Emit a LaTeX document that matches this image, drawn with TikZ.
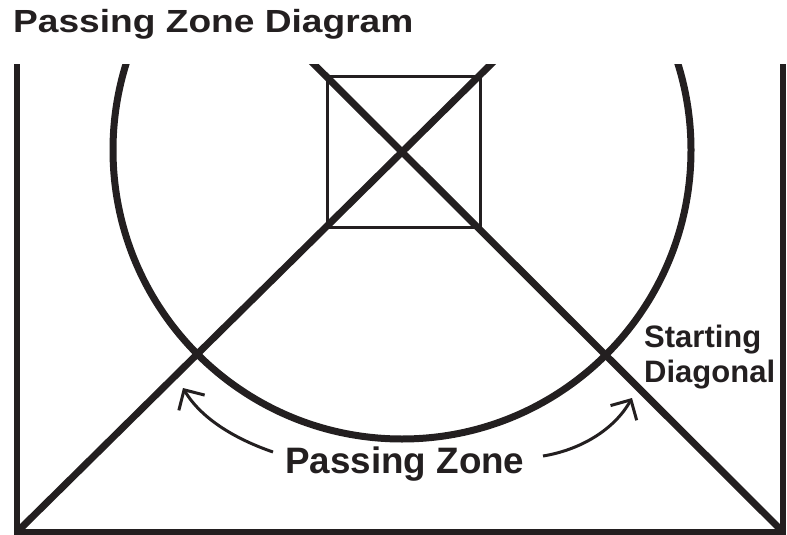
\documentclass[tikz,border=0pt]{standalone}
\usepackage{fontspec}
\setmainfont{Liberation Sans}
\usetikzlibrary{arrows.meta,calc}
\definecolor{ink}{RGB}{35,31,32}
\tikzset{
  thickline/.style={draw=ink,line width=7pt},
  frameline/.style={draw=ink,line width=5.5pt},
  boxline/.style={draw=ink,line width=3pt},
  zonearrow/.style={draw=ink,line width=3pt,-{Straight Barb[length=15pt,width=30pt,line width=3pt]}},
  lbl/.style={text=ink,inner sep=0pt,font=\bfseries}
}
\begin{document}
\begin{tikzpicture}[x=1pt,y=-1pt]
\useasboundingbox (0,0) rectangle (787,535);
% key points
\coordinate (bl) at (17,532);
\coordinate (br) at (783,532);
\coordinate (tlf) at (17,65);
\coordinate (trf) at (783,65);
\coordinate (c) at (402,152);
\coordinate (c0) at (402,150);
\coordinate (ext1) at ($(bl)!1.3!(c)$);
\coordinate (ext2) at ($(br)!1.3!(c)$);
\begin{scope}
\clip (0,65) rectangle (787,535);
\draw[frameline,line cap=rect] (tlf) -- (bl) -- (br) -- (trf);
\draw[thickline] (c0) circle[radius=289];
\node[boxline,minimum width=153pt,minimum height=150pt,inner sep=0pt] (sq) at (403.5,152) {};
\draw[thickline] (bl) -- (ext1);
\draw[thickline] (br) -- (ext2);
\end{scope}
% texts
\node[lbl,anchor=base west] (title) at (13,33) {\fontsize{32}{38}\selectfont\scalebox{1.16}[1]{Passing Zone Diagram}};
\node[lbl,anchor=base west] (pz) at (285,473) {\fontsize{36.8}{44}\selectfont Passing Zone};
\node[lbl,anchor=base west] (sd1) at (644,347) {\fontsize{31}{37}\selectfont Starting};
\node[lbl,anchor=base west] (sd2) at (644,382) {\fontsize{31}{37}\selectfont Diagonal};
% arrows
\coordinate (la) at (183,388);
\coordinate (ra) at (632,398);
\coordinate (ls) at (273,452);
\coordinate (rs) at (543,456);
\draw[zonearrow] (ls) .. controls (238,440) and (202,420) .. (la);
\draw[zonearrow] (rs) .. controls (580,450) and (614,430) .. (ra);
\end{tikzpicture}
\end{document}
